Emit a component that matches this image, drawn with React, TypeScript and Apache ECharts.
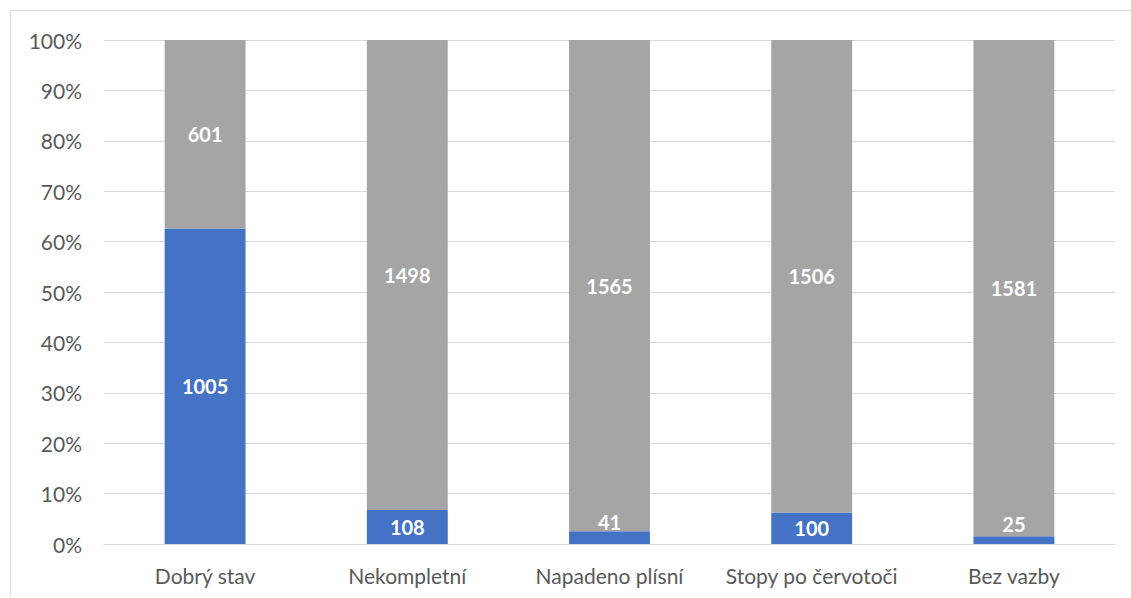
import React, { useEffect, useRef } from "react";
import * as echarts from "echarts";

// Condition of the collection: items with the given trait vs. the rest
const categories = ["Dobrý stav", "Nekompletní", "Napadeno plísní", "Stopy po červotoči", "Bez vazby"];
const withTrait = [1005, 108, 41, 100, 25];
const withoutTrait = [601, 1498, 1565, 1506, 1581];
const yTicks = [0, 10, 20, 30, 40, 50, 60, 70, 80, 90, 100];

const BLUE = "#4472C4";
const GRAY = "#A5A5A5";
const FONT = "Lato, 'Open Sans', sans-serif";

const totals = categories.map((_, i) => withTrait[i] + withoutTrait[i]);
const share = (arr: number[]) => arr.map((v, i) => (v / totals[i]) * 100);

function seriesData(counts: number[]) {
  const pct = share(counts);
  return pct.map((p, i) => ({
    value: p,
    count: counts[i],
    // labels that do not fit into a thin segment are lifted above it
    label: p < 4 ? { offset: [0, -16] } : undefined,
  }));
}

export default function App() {
  const ref = useRef<HTMLDivElement>(null);

  useEffect(() => {
    if (!ref.current) return;
    const chart = echarts.init(ref.current, null, { renderer: "svg" });
    const labelStyle = {
      show: true,
      position: "inside" as const,
      color: "#ffffff",
      fontFamily: FONT,
      fontWeight: "bold" as const,
      fontSize: 20,
      formatter: (p: any) => String(p.data.count),
    };
    chart.setOption({
      animation: false,
      backgroundColor: "#ffffff",
      graphic: [
        {
          type: "rect",
          shape: { x: 10.5, y: 10.5, width: 1300, height: 800 },
          style: { fill: "none", stroke: "#D9D9D9", lineWidth: 1 },
          silent: true,
        },
      ],
      grid: {
        left: 104,
        right: 16,
        top: 40,
        bottom: 54,
        outerBoundsMode: "none",
      },
      xAxis: {
        type: "category",
        data: categories,
        axisLine: { show: true, lineStyle: { color: "#D9D9D9", width: 1 } },
        axisTick: { show: false },
        axisLabel: {
          color: "#595959",
          fontFamily: FONT,
          fontSize: 21,
          margin: 21,
          interval: 0,
        },
      },
      yAxis: {
        type: "value",
        min: yTicks[0],
        max: yTicks[yTicks.length - 1],
        interval: 10,
        axisLine: { show: false },
        axisTick: { show: false },
        splitLine: { lineStyle: { color: "#D9D9D9", width: 1 } },
        axisLabel: {
          color: "#595959",
          fontFamily: FONT,
          fontSize: 21,
          margin: 22,
          formatter: "{value}%",
        },
      },
      series: [
        {
          type: "bar",
          stack: "total",
          barWidth: "40%",
          itemStyle: { color: BLUE },
          label: labelStyle,
          data: seriesData(withTrait),
        },
        {
          type: "bar",
          stack: "total",
          barWidth: "40%",
          itemStyle: { color: GRAY },
          label: labelStyle,
          data: seriesData(withoutTrait),
        },
      ],
    });
    return () => chart.dispose();
  }, []);

  return (
    <div
      ref={ref}
      style={{ position: "fixed", left: 0, top: 0, width: 1131, height: 598 }}
    />
  );
}
